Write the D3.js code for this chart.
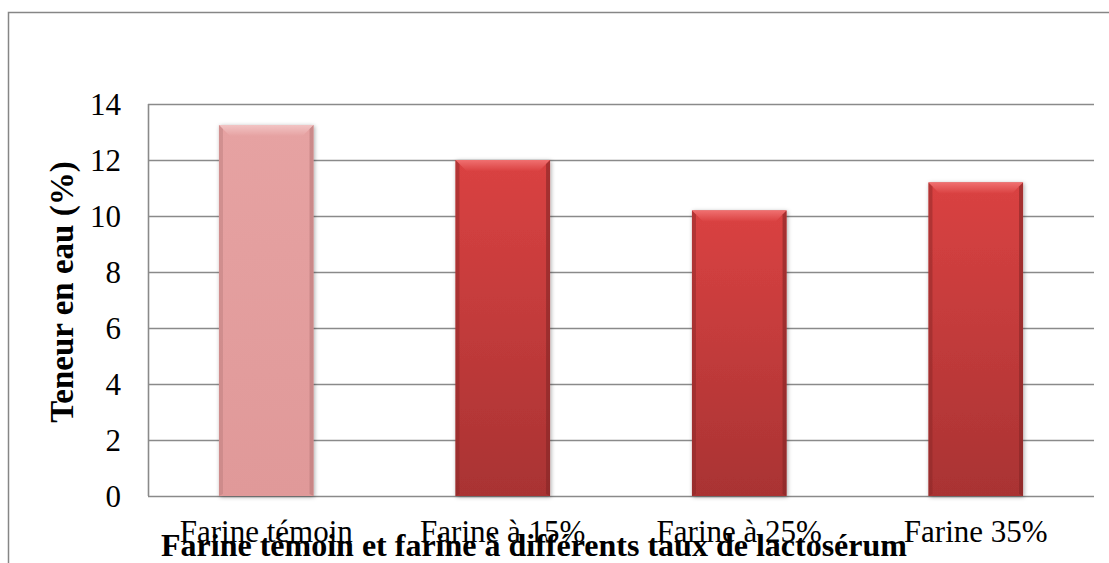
<!DOCTYPE html>
<html>
<head>
<meta charset="utf-8">
<script src="https://cdn.jsdelivr.net/npm/d3@7"></script>
<style>
  body { margin: 0; background: #fff; }
  svg { display: block; }
  text { font-family: "Liberation Serif", "Times New Roman", serif; fill: #000; }
</style>
</head>
<body>
<div id="chart"></div>
<script>
// data
const categories = ["Farine témoin", "Farine à 15%", "Farine à 25%", "Farine 35%"];
const values = [13.25, 12.0, 10.2, 11.2];
const barKinds = ["pink", "red", "red", "red"];
const yTicks = [0, 2, 4, 6, 8, 10, 12, 14];
const yTitle = "Teneur en eau (%)";
const xTitle = "Farine témoin et farine à différents taux de lactosérum";

const width = 1109;
const height = 563;
const margin = { top: 104, right: 15, bottom: 67, left: 148 };
const plotW = width - margin.left - margin.right;
const plotH = height - margin.top - margin.bottom;

const svg = d3.select("#chart").append("svg")
  .attr("width", width)
  .attr("height", height);

// gradients for the bevelled bars
const defs = svg.append("defs");
const palette = {
  pink: { top: "#e6a2a2", bottom: "#e09999", hi: "#f2c4c4", edge: "#b97a7a" },
  red:  { top: "#da4242", bottom: "#a93333", hi: "#f07070", edge: "#842626" }
};
for (const k of Object.keys(palette)) {
  const p = palette[k];
  const body = defs.append("linearGradient").attr("id", "body-" + k)
    .attr("x1", 0).attr("y1", 0).attr("x2", 0).attr("y2", 1);
  body.append("stop").attr("offset", "0%").attr("stop-color", p.top);
  body.append("stop").attr("offset", "100%").attr("stop-color", p.bottom);
  const hi = defs.append("linearGradient").attr("id", "hi-" + k)
    .attr("x1", 0).attr("y1", 0).attr("x2", 0).attr("y2", 1);
  hi.append("stop").attr("offset", "0%").attr("stop-color", p.hi);
  hi.append("stop").attr("offset", "100%").attr("stop-color", p.top);
}
const shadow = defs.append("filter").attr("id", "shadow")
  .attr("x", "-20%").attr("y", "-5%").attr("width", "140%").attr("height", "110%");
shadow.append("feDropShadow").attr("dx", 1).attr("dy", 1).attr("stdDeviation", 2)
  .attr("flood-color", "#000").attr("flood-opacity", 0.35);

// outer chart frame (runs off the right and bottom edges)
svg.append("rect")
  .attr("x", 8.5).attr("y", 12.5)
  .attr("width", 1120).attr("height", 600)
  .attr("fill", "none").attr("stroke", "#868686").attr("stroke-width", 1.5);

const g = svg.append("g").attr("transform", `translate(${margin.left},${margin.top})`);

const x = d3.scaleBand().domain(categories).range([0, plotW]).paddingInner(0.6).paddingOuter(0.3);
const y = d3.scaleLinear().domain([0, 14]).range([plotH, 0]);

// gridlines
g.append("g")
  .selectAll("line").data(yTicks)
  .join("line")
  .attr("x1", 0).attr("x2", plotW)
  .attr("y1", d => Math.round(y(d)) + 0.5)
  .attr("y2", d => Math.round(y(d)) + 0.5)
  .attr("stroke", "#8a8a8a").attr("stroke-width", 1.6);

// y axis line
g.append("line")
  .attr("x1", 0.5).attr("x2", 0.5)
  .attr("y1", 0).attr("y2", plotH)
  .attr("stroke", "#8a8a8a").attr("stroke-width", 1.6);

// y tick labels
g.append("g")
  .selectAll("text").data(yTicks)
  .join("text")
  .attr("x", -27)
  .attr("y", d => y(d))
  .attr("dy", "0.35em")
  .attr("text-anchor", "end")
  .attr("font-size", 31)
  .text(d => d);

// bars
const bars = g.append("g").selectAll("g.bar")
  .data(values.map((v, i) => ({ cat: categories[i], v, kind: barKinds[i] })))
  .join("g").attr("class", "bar");

const bev = 11; // bevel depth
bars.append("rect")
  .attr("x", d => x(d.cat))
  .attr("y", d => y(d.v))
  .attr("width", x.bandwidth())
  .attr("height", d => y(0) - y(d.v))
  .attr("fill", d => `url(#body-${d.kind})`)
  .attr("filter", "url(#shadow)");

// top highlight bevel
bars.append("path")
  .attr("d", d => {
    const x0 = x(d.cat), x1 = x0 + x.bandwidth(), t = y(d.v);
    return `M${x0},${t}L${x1},${t}L${x1 - bev},${t + bev}L${x0 + bev},${t + bev}Z`;
  })
  .attr("fill", d => `url(#hi-${d.kind})`);

// darker side edges
bars.append("path")
  .attr("d", d => {
    const x0 = x(d.cat), t = y(d.v), b = y(0);
    return `M${x0},${t}L${x0 + 4},${t + 4}L${x0 + 4},${b - 2}L${x0},${b}Z`;
  })
  .attr("fill", d => palette[d.kind].edge).attr("opacity", 0.45);
bars.append("path")
  .attr("d", d => {
    const x1 = x(d.cat) + x.bandwidth(), t = y(d.v), b = y(0);
    return `M${x1},${t}L${x1 - 4},${t + 4}L${x1 - 4},${b - 2}L${x1},${b}Z`;
  })
  .attr("fill", d => palette[d.kind].edge).attr("opacity", 0.6);

// category labels
g.append("g")
  .selectAll("text").data(categories)
  .join("text")
  .attr("x", d => x(d) + x.bandwidth() / 2)
  .attr("y", plotH + 46)
  .attr("text-anchor", "middle")
  .attr("font-size", 31)
  .text(d => d);

// axis titles
svg.append("text")
  .attr("x", 534).attr("y", 556)
  .attr("text-anchor", "middle")
  .attr("font-size", 32)
  .attr("font-weight", "bold")
  .text(xTitle);

svg.append("text")
  .attr("transform", `translate(73,${margin.top + plotH / 2 - 8}) rotate(-90)`)
  .attr("text-anchor", "middle")
  .attr("font-size", 33)
  .attr("font-weight", "bold")
  .text(yTitle);
</script>
</body>
</html>
